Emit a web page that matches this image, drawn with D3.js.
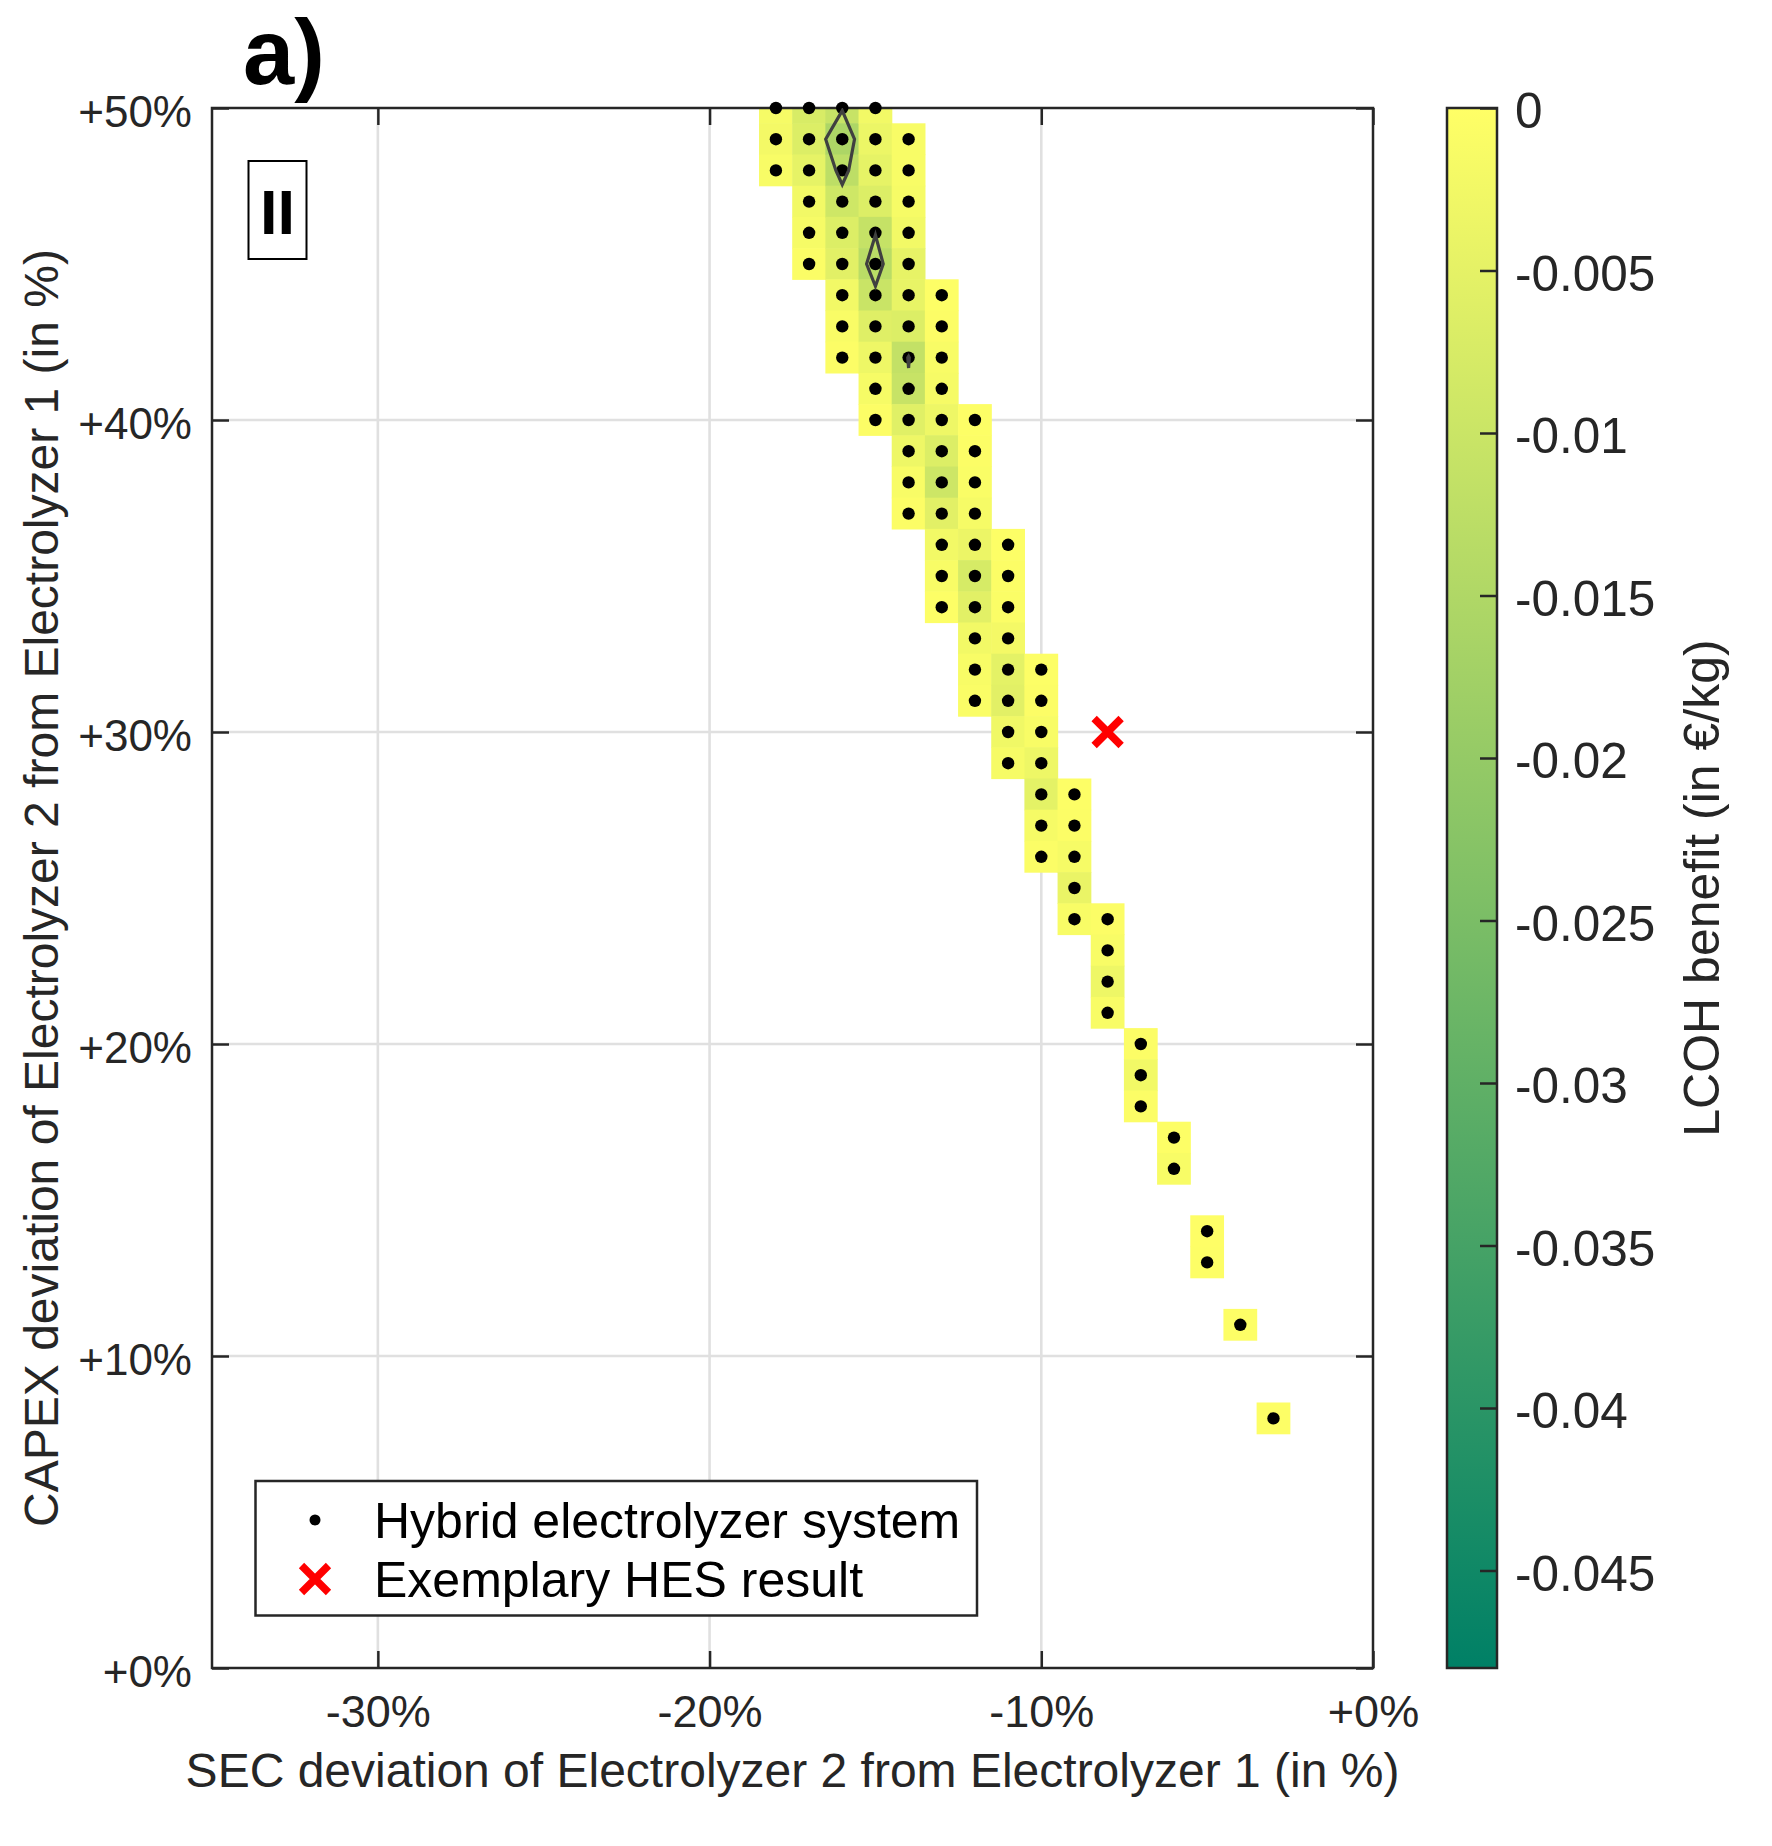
<!DOCTYPE html>
<html>
<head>
<meta charset="utf-8">
<script src="https://cdn.jsdelivr.net/npm/d3@7"></script>
<style>
  body { margin: 0; background: #fff; }
  svg { display: block; font-family: "Liberation Sans", Arial, Helvetica, sans-serif; }
</style>
</head>
<body>
<div id="chart"></div>
<script>
// SEC deviation of each column (%), the highest CAPEX row in it (%), and LCOH benefit (€/kg) going down
const secDev = [-18, -17, -16, -15, -14, -13, -12, -11, -10, -9, -8, -7, -6, -5, -4, -3];
const capexTop = [50, 50, 50, 50, 49, 44, 40, 36, 32, 28, 24, 20, 17, 14, 11, 8];
const lcohBenefit = [
  [-0.0017, -0.0021, -0.0013],
  [-0.0073, -0.0066, -0.0047, -0.0024, -0.0017, -0.0008],
  [-0.0106, -0.0154, -0.0125, -0.0092, -0.0066, -0.0055, -0.0024, -0.0012, -0.0006],
  [-0.0024, -0.0035, -0.0047, -0.0066, -0.01085, -0.013, -0.0102, -0.006, -0.0032, -0.0017, -0.0006],
  [-0.0013, -0.0013, -0.0017, -0.0024, -0.0045, -0.0043, -0.0066, -0.0112, -0.0106, -0.0058, -0.0032, -0.0013, -0.0006],
  [-0.0004, -0.0006, -0.0013, -0.0017, -0.0032, -0.0066, -0.0094, -0.0055, -0.0024, -0.0013, -0.0004],
  [-0.0004, -0.0006, -0.0009, -0.0017, -0.0036, -0.0077, -0.0055, -0.0024, -0.0013, -0.0009],
  [-0.0004, -0.0006, -0.0008, -0.0021, -0.0051, -0.0055, -0.0028, -0.0017],
  [-0.0004, -0.0006, -0.0013, -0.0032, -0.0051, -0.0017, -0.0008],
  [-0.0004, -0.0006, -0.0017, -0.004, -0.0013],
  [-0.0006, -0.0013, -0.0032, -0.0013],
  [-0.0006, -0.0024, -0.0006],
  [-0.0004, -0.0013],
  [-0.0002, -0.0004],
  [-0.0004],
  [-0.0004]
];
const exemplarySec = [-8];
const exemplaryCapex = [30];
const contourLevel = -0.011;
const xTicks = [-30, -20, -10, 0];
const yTicks = [0, 10, 20, 30, 40, 50];
const cbTicks = [0, -0.005, -0.01, -0.015, -0.02, -0.025, -0.03, -0.035, -0.04, -0.045];
const cbDomain = [-0.048, 0];
const legendLabels = ['Hybrid electrolyzer system', 'Exemplary HES result'];

const W = 1772, H = 1846;
const plot = { left: 212, right: 1373, top: 108, bottom: 1668 };
const ink = '#262626';

const x = d3.scaleLinear().domain([-35, 0]).range([plot.left, plot.right]);
const y = d3.scaleLinear().domain([0, 50]).range([plot.bottom, plot.top]);
const color = d3.scaleLinear().domain(cbDomain).range(['#008066', '#ffff66']).clamp(true);

// flatten the columns into cells
const cells = [];
secDev.forEach((s, i) => {
  lcohBenefit[i].forEach((v, j) => cells.push({ sec: s, capex: capexTop[i] - j, v }));
});

const svg = d3.select('#chart').append('svg')
  .attr('width', W).attr('height', H)
  .attr('viewBox', [0, 0, W, H]);

svg.append('defs').append('clipPath').attr('id', 'plotclip')
  .append('rect')
  .attr('x', plot.left).attr('y', plot.top)
  .attr('width', plot.right - plot.left).attr('height', plot.bottom - plot.top);

// --- grid ---
const grid = svg.append('g').attr('stroke', '#e0e0e0').attr('stroke-width', 2.6);
grid.selectAll('line.gx').data(xTicks.filter(d => d > -35 && d < 0)).join('line')
  .attr('x1', d => x(d)).attr('x2', d => x(d))
  .attr('y1', plot.top).attr('y2', plot.bottom);
grid.selectAll('line.gy').data(yTicks.filter(d => d > 0 && d < 50)).join('line')
  .attr('y1', d => y(d)).attr('y2', d => y(d))
  .attr('x1', plot.left).attr('x2', plot.right);

// --- heatmap cells ---
svg.append('g').attr('clip-path', 'url(#plotclip)')
  .selectAll('rect').data(cells).join('rect')
  .attr('x', d => x(d.sec - 0.5) - 0.3)
  .attr('y', d => y(d.capex + 0.5) - 0.3)
  .attr('width', d => x(d.sec + 0.5) - x(d.sec - 0.5) + 0.6)
  .attr('height', d => y(d.capex - 0.5) - y(d.capex + 0.5) + 0.6)
  .attr('fill', d => color(d.v));

// --- axes (ticks inward on all four sides) ---
const fmtX = d => (d >= 0 ? '+' : '') + d + '%';
const fmtY = d => '+' + d + '%';
const tk = 17;
const axB = svg.append('g').attr('transform', `translate(0,${plot.bottom})`)
  .call(d3.axisBottom(x).tickValues(xTicks).tickFormat(fmtX).tickSizeInner(-tk).tickSizeOuter(0).tickPadding(27));
const axL = svg.append('g').attr('transform', `translate(${plot.left},0)`)
  .call(d3.axisLeft(y).tickValues(yTicks).tickFormat(fmtY).tickSizeInner(-tk).tickSizeOuter(0).tickPadding(20));
const axT = svg.append('g').attr('transform', `translate(0,${plot.top})`)
  .call(d3.axisTop(x).tickValues(xTicks).tickFormat('').tickSizeInner(-tk).tickSizeOuter(0));
const axR = svg.append('g').attr('transform', `translate(${plot.right},0)`)
  .call(d3.axisRight(y).tickValues(yTicks).tickFormat('').tickSizeInner(-tk).tickSizeOuter(0));
[axB, axL, axT, axR].forEach(a => {
  a.select('.domain').remove();
  a.selectAll('line').attr('stroke', ink).attr('stroke-width', 2.5);
  a.selectAll('text').attr('fill', ink).attr('font-size', 45).attr('font-family', null);
});
axL.selectAll('text').attr('font-size', 44).attr('dy', '0.42em');

svg.append('rect')
  .attr('x', plot.left).attr('y', plot.top)
  .attr('width', plot.right - plot.left).attr('height', plot.bottom - plot.top)
  .attr('fill', 'none').attr('stroke', ink).attr('stroke-width', 2.5);

// --- points ---
svg.append('g').selectAll('circle').data(cells).join('circle')
  .attr('cx', d => x(d.sec)).attr('cy', d => y(d.capex))
  .attr('r', 6.2).attr('fill', '#000');

// --- contour of the LCOH benefit ---
const nx = secDev.length, ny = 50 - 8 + 1;
const grid2 = new Array(nx * ny).fill(0);
cells.forEach(c => { grid2[(50 - c.capex) * nx + (c.sec - secDev[0])] = -c.v; });
const cont = d3.contours().size([nx, ny]).thresholds([-contourLevel])(grid2);
const px = gx => x(secDev[0] + gx - 0.5);
const py = gy => y(50 - gy + 0.5);
let dPath = '';
cont.forEach(c => c.coordinates.forEach(poly => poly.forEach(ring => {
  dPath += 'M' + ring.map(p => px(p[0]).toFixed(2) + ',' + py(p[1]).toFixed(2)).join('L') + 'Z';
})));
svg.append('path').attr('d', dPath)
  .attr('fill', 'none').attr('stroke', '#404040').attr('stroke-width', 3.2)
  .attr('stroke-linejoin', 'miter')
  .attr('clip-path', 'url(#plotclip)');

// --- exemplary result ---
function xMark(g, cx, cy) {
  const a = 13.5;
  g.append('path')
    .attr('d', `M${cx - a},${cy - a}L${cx + a},${cy + a}M${cx - a},${cy + a}L${cx + a},${cy - a}`)
    .attr('stroke', '#ff0000').attr('stroke-width', 7.5).attr('fill', 'none');
}
exemplarySec.forEach((s, i) => xMark(svg, x(s), y(exemplaryCapex[i])));

// --- panel label and regime label ---
svg.append('text').attr('x', 243).attr('y', 84)
  .attr('font-size', 92).attr('font-weight', 'bold').attr('fill', '#000').text('a)');
svg.append('rect').attr('x', 248.5).attr('y', 161).attr('width', 58).attr('height', 98)
  .attr('fill', '#fff').attr('stroke', '#000').attr('stroke-width', 2);
svg.append('text').attr('x', 277.5).attr('y', 234).attr('text-anchor', 'middle')
  .attr('font-size', 63).attr('font-weight', 'bold').attr('fill', '#000').text('II');

// --- axis titles ---
svg.append('text').attr('x', (plot.left + plot.right) / 2).attr('y', 1770).attr('dy', '0.35em')
  .attr('text-anchor', 'middle').attr('font-size', 48).attr('fill', ink)
  .text('SEC deviation of Electrolyzer 2 from Electrolyzer 1 (in %)');
svg.append('text').attr('transform', `translate(41,${(plot.top + plot.bottom) / 2}) rotate(-90)`)
  .attr('dy', '0.35em').attr('text-anchor', 'middle').attr('font-size', 48).attr('fill', ink)
  .text('CAPEX deviation of Electrolyzer 2 from Electrolyzer 1 (in %)');

// --- legend ---
const lg = svg.append('g');
lg.append('rect').attr('x', 255.5).attr('y', 1481).attr('width', 721.5).attr('height', 134.5)
  .attr('fill', '#fff').attr('stroke', ink).attr('stroke-width', 2.5);
lg.append('circle').attr('cx', 315).attr('cy', 1520).attr('r', 5.5).attr('fill', '#000');
xMark(lg, 315, 1579);
lg.selectAll('text').data(legendLabels).join('text')
  .attr('x', 374).attr('y', (d, i) => 1520 + i * 59).attr('dy', '0.35em')
  .attr('font-size', 50).attr('fill', '#000').text(d => d);

// --- colorbar ---
const cb = { left: 1447, right: 1497 };
const cbY = d3.scaleLinear().domain(cbDomain).range([plot.bottom, plot.top]);
const grad = svg.select('defs').append('linearGradient').attr('id', 'cbgrad')
  .attr('x1', 0).attr('y1', 1).attr('x2', 0).attr('y2', 0);
d3.range(0, 1.0001, 0.1).forEach(t => {
  grad.append('stop').attr('offset', t)
    .attr('stop-color', color(cbDomain[0] + t * (cbDomain[1] - cbDomain[0])));
});
svg.append('rect').attr('x', cb.left).attr('y', plot.top)
  .attr('width', cb.right - cb.left).attr('height', plot.bottom - plot.top)
  .attr('fill', 'url(#cbgrad)').attr('stroke', ink).attr('stroke-width', 2.5);
const axC = svg.append('g').attr('transform', `translate(${cb.right},0)`)
  .call(d3.axisRight(cbY).tickValues(cbTicks).tickFormat(d => d === 0 ? '0' : String(d))
    .tickSizeInner(-tk).tickSizeOuter(0).tickPadding(18));
axC.select('.domain').remove();
axC.selectAll('line').attr('stroke', ink).attr('stroke-width', 2.5);
axC.selectAll('text').attr('fill', ink).attr('font-size', 49.5).attr('font-family', null).attr('dy', '0.4em');

svg.append('text').attr('transform', `translate(1701,${(plot.top + plot.bottom) / 2}) rotate(-90)`)
  .attr('dy', '0.35em').attr('text-anchor', 'middle').attr('font-size', 50).attr('fill', ink)
  .text('LCOH benefit (in €/kg)');
</script>
</body>
</html>
